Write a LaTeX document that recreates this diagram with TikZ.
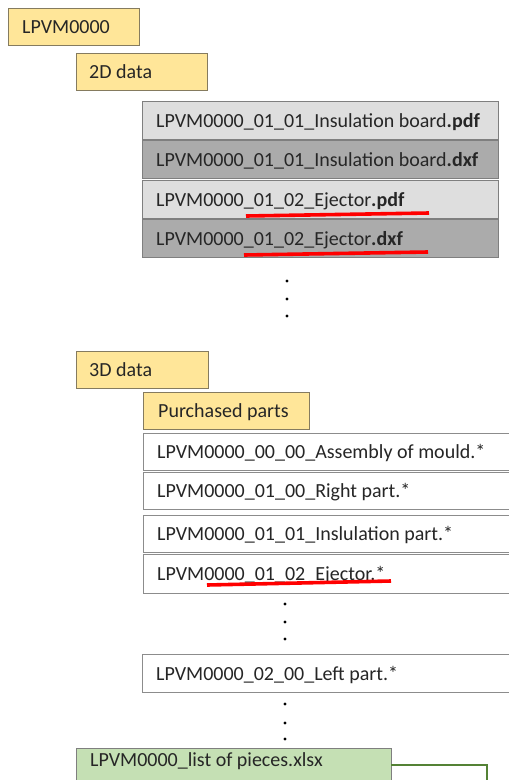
\documentclass[tikz,border=0pt]{standalone}
\usepackage{fontspec}
\setmainfont{Carlito}
\definecolor{ylw}{HTML}{FFE699}
\definecolor{ylwb}{HTML}{857B5F}
\definecolor{lgr}{HTML}{DEDEDE}
\definecolor{dgr}{HTML}{ABABAB}
\definecolor{grb}{HTML}{7F7F7F}
\definecolor{wb}{HTML}{8C8C8C}
\definecolor{grn}{HTML}{C5E0B4}
\definecolor{grnl}{HTML}{548235}
\definecolor{redl}{HTML}{FF0000}
\definecolor{txtc}{HTML}{262626}
\tikzset{
  box/.style={draw=grb, line width=1.4pt, anchor=north west, inner sep=0pt, minimum height=37pt},
  ybox/.style={box, draw=ylwb, fill=ylw},
  lbox/.style={box, fill=lgr},
  dbox/.style={box, fill=dgr},
  wbox/.style={box, draw=wb, fill=white},
  gbox/.style={box, fill=grn},
  txt/.style={anchor=base west, inner sep=0pt, text=txtc, font=\fontsize{20}{24}\selectfont},
  uline/.style={draw=redl, line width=3.6pt},
  dotc/.style={fill=black},
}
\begin{document}
\begin{tikzpicture}[x=1pt,y=-1pt]
\useasboundingbox (0,0) rectangle (509,780);
\clip (0,0) rectangle (509,780);
\fill[white] (0,0) rectangle (509,780);
% top level
\node[ybox, minimum width=131pt] (root) at (8,8) {};
\node[txt] (troot) at ([xshift=14pt,yshift=-6.5pt]root.west) {LPVM0000};
\node[ybox, minimum width=131pt] (d2) at (76,53) {};
\node[txt] (td2) at ([xshift=13pt,yshift=-6.5pt]d2.west) {2D data};
% 2D files
\node[lbox, minimum width=356pt, minimum height=38pt] (f1) at (142,101) {};
\node[txt] (tf1) at ([xshift=14pt,yshift=-6.5pt]f1.west) {LPVM0000\_01\_01\_Insulation board\textbf{.pdf}};
\node[dbox, minimum width=356pt, minimum height=38pt] (f2) at (142,140) {};
\node[txt] (tf2) at ([xshift=14pt,yshift=-6.5pt]f2.west) {LPVM0000\_01\_01\_Insulation board\textbf{.dxf}};
\node[lbox, minimum width=356pt, minimum height=38pt] (f3) at (142,180) {};
\node[txt] (tf3) at ([xshift=14pt,yshift=-6.5pt]f3.west) {LPVM0000\_01\_02\_Ejector\textbf{.pdf}};
\node[dbox, minimum width=356pt, minimum height=38pt] (f4) at (142,219) {};
\node[txt] (tf4) at ([xshift=14pt,yshift=-6.5pt]f4.west) {LPVM0000\_01\_02\_Ejector\textbf{.dxf}};
\draw[uline] (246,216) -- (429,213);
\draw[uline] (244,255) -- (428,252);
\foreach \yy in {281,299,316} \fill[dotc] (287,\yy) circle (1.7);
% 3D data
\node[ybox, minimum width=132pt] (d3) at (76,351) {};
\node[txt] (td3) at ([xshift=13pt,yshift=-6.5pt]d3.west) {3D data};
\node[ybox, minimum width=166pt] (pp) at (143,392) {};
\node[txt] (tpp) at ([xshift=15pt,yshift=-6.5pt]pp.west) {Purchased parts};
\node[wbox, minimum width=400pt] (g1) at (143,433) {};
\node[txt] (tg1) at ([xshift=14pt,yshift=-6.5pt]g1.west) {LPVM0000\_00\_00\_Assembly of mould.*};
\node[wbox, minimum width=400pt] (g2) at (143,472) {};
\node[txt] (tg2) at ([xshift=14pt,yshift=-6.5pt]g2.west) {LPVM0000\_01\_00\_Right part.*};
\node[wbox, minimum width=400pt] (g3) at (143,515) {};
\node[txt] (tg3) at ([xshift=14pt,yshift=-6.5pt]g3.west) {LPVM0000\_01\_01\_Inslulation part.*};
\node[wbox, minimum width=400pt, minimum height=39pt] (g4) at (143,554) {};
\node[txt] (tg4) at ([xshift=14pt,yshift=-6.5pt]g4.west) {LPVM0000\_01\_02\_Ejector.*};
\draw[uline] (207,585) -- (391,581);
\foreach \yy in {604,622,639} \fill[dotc] (285,\yy) circle (1.7);
\node[wbox, minimum width=400pt, minimum height=38pt] (g5) at (142,654) {};
\node[txt] (tg5) at ([xshift=14pt,yshift=-6.5pt]g5.west) {LPVM0000\_02\_00\_Left part.*};
\foreach \yy in {704,723,739} \fill[dotc] (285,\yy) circle (1.7);
% list of pieces
\node[gbox, minimum width=315pt, minimum height=60pt] (xl) at (76,748) {};
\node[txt] (txl) at (90,766) {LPVM0000\_list of pieces.xlsx};
\coordinate (c1) at (391,765);
\coordinate (c2) at (487,765);
\coordinate (c3) at (487,800);
\draw[draw=grnl, line width=1.6pt] (c1) -- (c2) -- (c3);
\end{tikzpicture}
\end{document}
